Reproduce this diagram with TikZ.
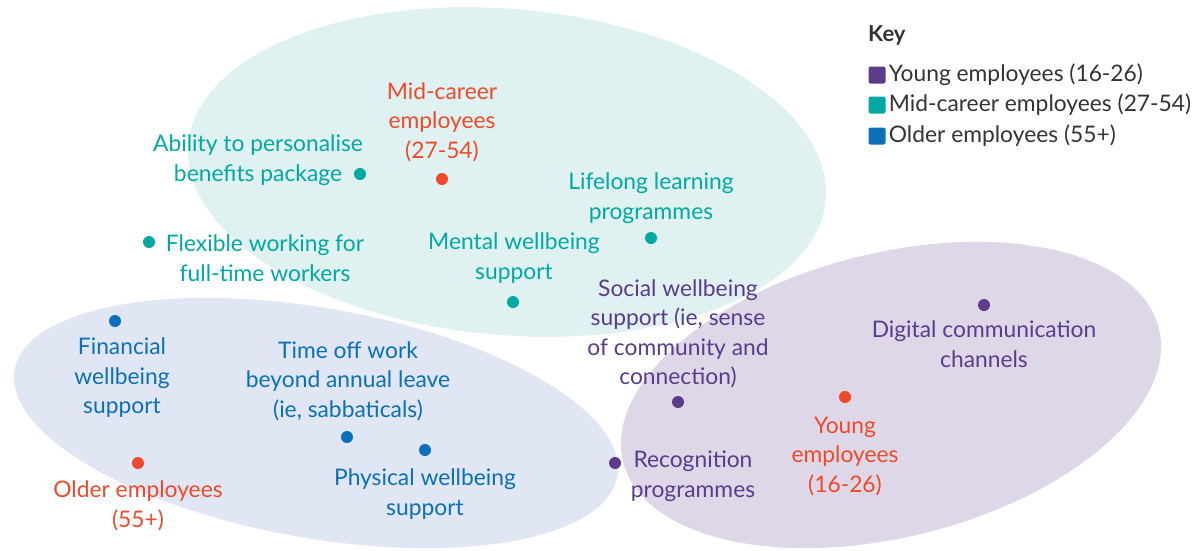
\documentclass[tikz,border=0pt]{standalone}
\usepackage{fontspec}
\setmainfont{Lato}
\usepackage{tikz}

\definecolor{youngcol}{HTML}{5B3C8C}
\definecolor{midcol}{HTML}{00A9A2}
\definecolor{oldcol}{HTML}{0B6FBA}
\definecolor{groupcol}{HTML}{EE4A2A}
\definecolor{keycol}{HTML}{333333}
\definecolor{youngfill}{HTML}{DDD7E7}
\definecolor{midfill}{HTML}{DFF1F1}
\definecolor{oldfill}{HTML}{E0E6F4}

\tikzset{
  lbl/.style={align=center, inner sep=0pt, font=\fontsize{22.8}{29.5}\selectfont},
  spot/.style={circle, fill, inner sep=0pt, minimum size=12pt},
  keybox/.style={fill, rounded corners=2pt, inner sep=0pt, minimum size=17pt},
}

\begin{document}
\begin{tikzpicture}[x=1pt,y=-1pt]
\useasboundingbox (0,0) rectangle (1200,550);
\clip (0,0) rectangle (1200,550);
%
% the three age groups
\fill[midfill, rotate around={-5:(507,172)}] (507,172) ellipse [x radius=320, y radius=163];
\fill[oldfill, rotate around={-10:(316,423)}] (316,423) ellipse [x radius=306, y radius=115];
\fill[youngfill, rotate around={14:(891,395)}] (891,395) ellipse [x radius=276, y radius=142];
%
% mid-career
\node[spot, groupcol] (mid) at (442,179) {};
\node[lbl, groupcol] (midlbl) at (442,122) {Mid-career\\employees\\(27-54)};
\node[spot, midcol] (abil) at (360,174) {};
\node[lbl, midcol] (abillbl) at (258,160) {Ability to personalise\\benefits package};
\node[spot, midcol] (flex) at (149,242) {};
\node[lbl, midcol] (flexlbl) at (265,258) {Flexible working for\\full-time workers};
\node[spot, midcol] (ment) at (513,302) {};
\node[lbl, midcol] (mentlbl) at (514,258) {Mental wellbeing\\support};
\node[spot, midcol] (life) at (651,238) {};
\node[lbl, midcol] (lifelbl) at (651,198) {Lifelong learning\\programmes};
%
% young
\node[spot, groupcol] (young) at (845,397) {};
\node[lbl, groupcol] (younglbl) at (845,456) {Young\\employees\\(16-26)};
\node[spot, youngcol] (soc) at (678,402) {};
\node[lbl, youngcol] (soclbl) at (678,334) {Social wellbeing\\support (ie, sense\\of community and\\connection)};
\node[spot, youngcol] (dig) at (984,305) {};
\node[lbl, youngcol] (diglbl) at (984,344) {Digital communication\\channels};
\node[spot, youngcol] (rec) at (615,463) {};
\node[lbl, youngcol] (reclbl) at (693,476) {Recognition\\programmes};
%
% older
\node[spot, groupcol] (old) at (138,463) {};
\node[lbl, groupcol] (oldlbl) at (138,506) {Older employees\\(55+)};
\node[spot, oldcol] (fin) at (115,321) {};
\node[lbl, oldcol] (finlbl) at (122,378) {Financial\\wellbeing\\support};
\node[spot, oldcol] (time) at (347,437) {};
\node[lbl, oldcol] (timelbl) at (348,381) {Time off work\\beyond annual leave\\(ie, sabbaticals)};
\node[spot, oldcol] (phys) at (425,450) {};
\node[lbl, oldcol] (physlbl) at (425,494) {Physical wellbeing\\support};
%
% key
\node[lbl, keycol, anchor=west, font=\fontsize{22}{26}\selectfont\bfseries] (key) at (868,35) {Key};
\node[keybox, youngcol] (ky) at (877,75) {};
\node[keybox, midcol] (km) at (877,105) {};
\node[keybox, oldcol] (ko) at (877,136) {};
\node[lbl, keycol, anchor=west] (kylbl) at (ky.east) [xshift=3pt] {Young employees (16-26)};
\node[lbl, keycol, anchor=west] (kmlbl) at (km.east) [xshift=3pt] {Mid-career employees (27-54)};
\node[lbl, keycol, anchor=west] (kolbl) at (ko.east) [xshift=3pt] {Older employees (55+)};
\end{tikzpicture}
\end{document}
